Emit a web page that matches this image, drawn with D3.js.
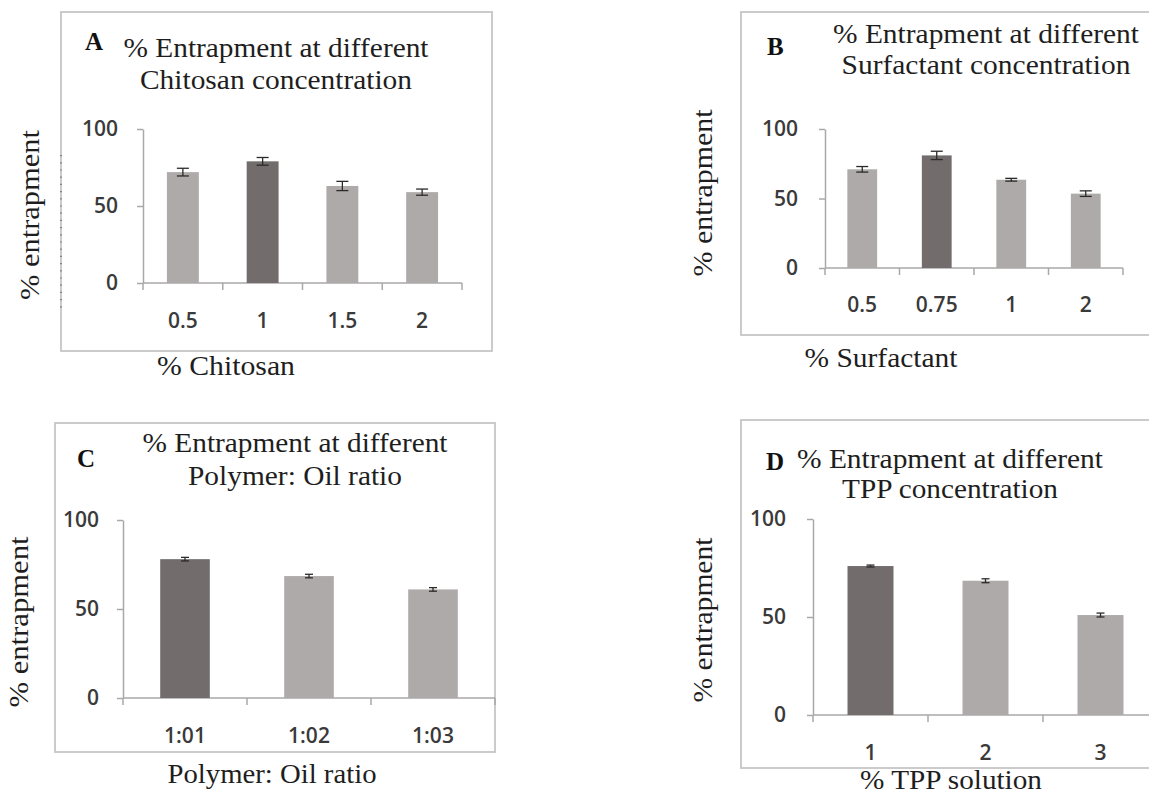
<!DOCTYPE html>
<html><head><meta charset="utf-8">
<script src="https://cdn.jsdelivr.net/npm/d3@7"></script>
<style>body{margin:0;background:#fff;} svg{display:block;}</style>
</head><body><svg id="chart" width="1149" height="796"></svg>
<script>
// ---------- DATA ----------
const yTicks = [0, 50, 100];
const yTitle = "% entrapment";

const catsA = ["0.5", "1", "1.5", "2"];
const valsA = [72, 79, 63, 59];
const errsA = [2.5, 2.5, 3, 2];
const highlightA = ["1"];
const titleA = ["% Entrapment at different", "Chitosan concentration"];
const xTitleA = "% Chitosan";

const catsB = ["0.5", "0.75", "1", "2"];
const valsB = [71, 81, 63.5, 53.5];
const errsB = [2, 3, 1, 2];
const highlightB = ["0.75"];
const titleB = ["% Entrapment at different", "Surfactant concentration"];
const xTitleB = "% Surfactant";

const catsC = ["1:01", "1:02", "1:03"];
const valsC = [78, 68.5, 61];
const errsC = [1, 1, 1];
const highlightC = ["1:01"];
const titleC = ["% Entrapment at different", "Polymer: Oil ratio"];
const xTitleC = "Polymer: Oil ratio";

const catsD = ["1", "2", "3"];
const valsD = [76, 68.5, 51];
const errsD = [0.5, 1, 1];
const highlightD = ["1"];
const titleD = ["% Entrapment at different", "TPP concentration"];
const xTitleD = "% TPP solution";

// ---------- LAYOUT ----------
const panels = [
  {tag: "A", cats: catsA, vals: valsA, errs: errsA, hi: highlightA, title: titleA, xTitle: xTitleA,
   box: [61, 12, 492, 351], x0: 143, x1: 462, yZero: 283, yTop: 129, tickBase: 328,
   tCx: 276, tBase: [57, 89], tW: [305, 272], tagPos: [85, 50],
   xtCx: 226, xtBase: 375, xtW: 138, ytCx: 33, ytCy: 215, ytLen: 170, cap: 12, dotted: true, gap: 25},
  {tag: "B", cats: catsB, vals: valsB, errs: errsB, hi: highlightB, title: titleB, xTitle: xTitleB,
   box: [741, 12, 1170, 335], x0: 825, x1: 1123, yZero: 268, yTop: 129, tickBase: 312,
   tCx: 986, tBase: [43, 74], tW: [306, 289], tagPos: [767, 55],
   xtCx: 881, xtBase: 367, xtW: 153, ytCx: 706, ytCy: 193, ytLen: 167, cap: 12, dotted: false, gap: 27},
  {tag: "C", cats: catsC, vals: valsC, errs: errsC, hi: highlightC, title: titleC, xTitle: xTitleC,
   box: [55, 423, 495, 752], x0: 123, x1: 495, yZero: 698, yTop: 520, tickBase: 743,
   tCx: 295, tBase: [452, 485], tW: [305, 214], tagPos: [77, 467],
   xtCx: 272, xtBase: 783, xtW: 209, ytCx: 21.5, ytCy: 622, ytLen: 171, cap: 8, dotted: false, gap: 24},
  {tag: "D", cats: catsD, vals: valsD, errs: errsD, hi: highlightD, title: titleD, xTitle: xTitleD,
   box: [741, 420, 1170, 768], x0: 813, x1: 1158, yZero: 715, yTop: 519, tickBase: 760,
   tCx: 950, tBase: [468, 498], tW: [306, 216], tagPos: [766, 470],
   xtCx: 951, xtBase: 789, xtW: 182, ytCx: 706, ytCy: 620, ytLen: 165, cap: 8, dotted: false, gap: 27}
];

const SERIF = "'Liberation Serif', 'Times New Roman', serif";
const SANS = "'Open Sans', 'Liberation Sans', sans-serif";
const LIGHT = "#aeaaa9", DARK = "#726d6c", AXIS = "#a8a8a8", BORDER = "#c6c6c6";

const svg = d3.select("#chart");
svg.append("rect").attr("width", 1149).attr("height", 796).attr("fill", "#fff");

panels.forEach(p => {
  const g = svg.append("g");
  // frame
  g.append("rect")
    .attr("x", p.box[0]).attr("y", p.box[1])
    .attr("width", p.box[2] - p.box[0]).attr("height", p.box[3] - p.box[1])
    .attr("fill", "none").attr("stroke", BORDER).attr("stroke-width", 1.8);
  if (p.dotted) {
    g.append("line").attr("x1", p.box[0]).attr("x2", p.box[0])
      .attr("y1", p.box[1] + 143).attr("y2", p.box[1] + 300)
      .attr("stroke", "#555").attr("stroke-width", 1.2).attr("stroke-dasharray", "1.2,6");
  }

  const y = d3.scaleLinear().domain([0, 100]).range([p.yZero, p.yTop]);
  const x = d3.scaleBand().domain(p.cats).range([p.x0, p.x1]).paddingInner(0.6).paddingOuter(0.3);
  const step = x.step();

  // y axis
  const ya = g.append("g").attr("transform", `translate(${p.x0},0)`)
    .call(d3.axisLeft(y).tickValues(yTicks).tickSize(6).tickSizeOuter(0).tickPadding(p.gap - 6));
  ya.select(".domain").attr("stroke", AXIS).attr("stroke-width", 1.5);
  ya.selectAll(".tick line").attr("stroke", AXIS).attr("stroke-width", 1.5);
  ya.selectAll(".tick text").attr("font-family", SANS).attr("font-size", 21)
    .attr("font-weight", 600).attr("fill", "#3a3a3a");

  // x axis line
  g.append("line").attr("x1", p.x0).attr("x2", p.x1)
    .attr("y1", p.yZero).attr("y2", p.yZero)
    .attr("stroke", AXIS).attr("stroke-width", 1.5);
  const bounds = d3.range(p.cats.length + 1).map(i => p.x0 + i * step);
  g.selectAll(".xtick").data(bounds).join("line")
    .attr("x1", d => d).attr("x2", d => d)
    .attr("y1", p.yZero).attr("y2", p.yZero + 7)
    .attr("stroke", AXIS).attr("stroke-width", 1.5);

  // bars
  const data = p.cats.map((c, i) => ({c, v: p.vals[i], e: p.errs[i]}));
  g.selectAll(".bar").data(data).join("rect")
    .attr("x", d => x(d.c)).attr("width", x.bandwidth())
    .attr("y", d => y(d.v)).attr("height", d => y(0) - y(d.v))
    .attr("fill", d => p.hi.includes(d.c) ? DARK : LIGHT);

  // error bars
  const eg = g.selectAll(".err").data(data).join("g");
  eg.append("line")
    .attr("x1", d => x(d.c) + x.bandwidth() / 2).attr("x2", d => x(d.c) + x.bandwidth() / 2)
    .attr("y1", d => y(d.v + d.e)).attr("y2", d => y(d.v - d.e))
    .attr("stroke", "#2a2a2a").attr("stroke-width", 1.3);
  [1, -1].forEach(s => {
    eg.append("line")
      .attr("x1", d => x(d.c) + x.bandwidth() / 2 - p.cap / 2)
      .attr("x2", d => x(d.c) + x.bandwidth() / 2 + p.cap / 2)
      .attr("y1", d => y(d.v + s * d.e)).attr("y2", d => y(d.v + s * d.e))
      .attr("stroke", "#2a2a2a").attr("stroke-width", 1.3);
  });

  // x tick labels
  g.selectAll(".xl").data(p.cats).join("text")
    .attr("x", d => x(d) + x.bandwidth() / 2).attr("y", p.tickBase)
    .attr("text-anchor", "middle").attr("font-family", SANS).attr("font-size", 21)
    .attr("font-weight", 600).attr("fill", "#3a3a3a").text(d => d);

  // title
  p.title.forEach((t, i) => {
    g.append("text").attr("x", p.tCx).attr("y", p.tBase[i])
      .attr("text-anchor", "middle").attr("font-family", SERIF).attr("font-size", 27)
      .attr("textLength", p.tW[i]).attr("lengthAdjust", "spacingAndGlyphs")
      .attr("fill", "#1e1e1e").text(t);
  });
  // panel tag
  g.append("text").attr("x", p.tagPos[0]).attr("y", p.tagPos[1])
    .attr("font-family", SERIF).attr("font-size", 25).attr("font-weight", "bold")
    .attr("fill", "#111").text(p.tag);

  // x title
  g.append("text").attr("x", p.xtCx).attr("y", p.xtBase)
    .attr("text-anchor", "middle").attr("font-family", SERIF).attr("font-size", 27)
    .attr("textLength", p.xtW).attr("lengthAdjust", "spacingAndGlyphs")
    .attr("fill", "#1e1e1e").text(p.xTitle);

  // y title
  g.append("text")
    .attr("transform", `translate(${p.ytCx + 6},${p.ytCy}) rotate(-90)`)
    .attr("text-anchor", "middle").attr("font-family", SERIF).attr("font-size", 27)
    .attr("textLength", p.ytLen).attr("lengthAdjust", "spacingAndGlyphs")
    .attr("fill", "#1e1e1e").text(yTitle);
});
</script>
</body></html>
